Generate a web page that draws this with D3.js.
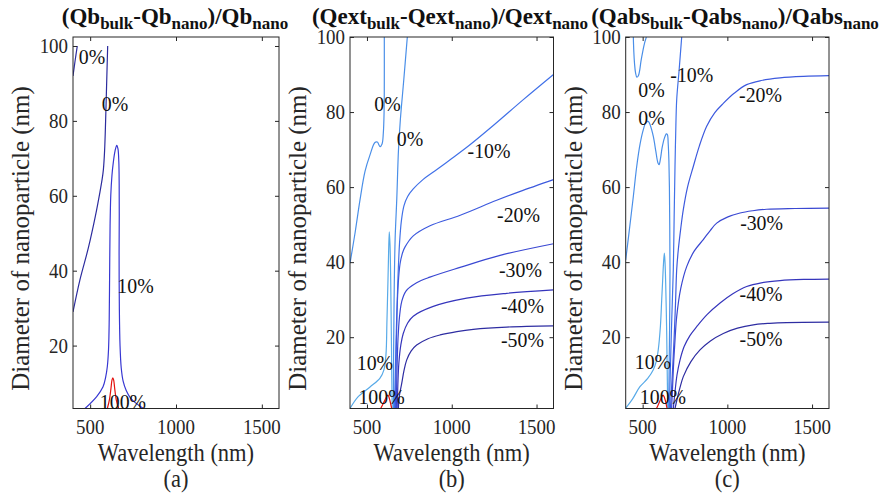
<!DOCTYPE html>
<html>
<head>
<meta charset="utf-8">
<script src="https://cdn.jsdelivr.net/npm/d3@7"></script>
<style>
  html, body { margin: 0; padding: 0; background: #fff; }
  svg { display: block; }
</style>
</head>
<body style="margin:0;padding:0;background:#fff">
<svg id="chart" width="883" height="498" style="display:block"></svg>
<script>
// ---------- axis ticks ----------
const wavelengthTicks = [500, 1000, 1500];
const diameterTicks = [20, 40, 60, 80, 100];
const wavelengthRange = [400, 1600];

// ---------- panel (a): backscattering, contour lines as [wavelength nm, diameter nm] ----------
const qbZeroEdge = [[400, 92], [412, 96], [425, 100]];
const qbZeroMain = [[400, 29], [440, 37.5], [489, 46], [530, 54.5], [557, 61], [570, 64.5], [577, 67],
  [584, 72], [590, 80], [596, 90], [602, 100]];
const qbTen = [[470, 3.2], [538, 6.4], [575, 9], [590, 11.5], [600, 14.4], [607, 19], [611, 27], [613.5, 40],
  [616, 52], [620, 60], [627, 65.5], [635, 69], [645, 72], [655, 73.5], [662, 72.5], [667, 69], [669, 63],
  [669.5, 55], [668.5, 45], [670, 30], [674, 20], [681, 14], [692, 10.5], [710, 8], [735, 6], [770, 4.5], [810, 3.2]];
const qbHundred = [[600, 3.2], [612, 5.5], [621, 8.5], [627, 10.8], [632, 11.4], [637, 10.8], [643, 8.5],
  [652, 5.5], [666, 3.2]];
const qbLabels = [["0%", 510.7, 97.25], ["0%", 644.7, 84.85], ["10%", 764, 36.3], ["100%", 691, 5.25]];

// ---------- panel (b): extinction ----------
const qextTen = [[400, 1], [447, 4.1], [518, 6.75], [577, 9.1], [600, 11.3], [612, 15.3], [618, 24.6], [624, 35.3],
  [628, 43.3], [631.7, 48.1], [636, 44.6], [640, 35.3], [643.5, 22], [646.5, 8.7], [649, 1]];
const qextZeroLeft = [[400, 39.7], [429.5, 47.7], [459, 56.6], [488.5, 64.2], [518, 68.6], [547, 71.9], [561, 72],
  [577, 70.8], [589, 71.5], [596.5, 74.4], [601, 80], [602.3, 88], [602.3, 100]];
const qextZeroRight = [[738, 100], [716, 88], [697, 78], [686, 70], [676, 57], [666, 46], [660, 30], [657, 15], [656, 1]];
const qextNeg10 = [[662, 1], [668, 12], [675, 25], [683, 36], [692, 45], [703, 51], [718, 55], [740, 57.5], [773, 59.5],
  [830, 62], [900, 64.3], [1000, 67.6], [1100, 71], [1250, 76.6], [1422, 83.3], [1600, 90]];
const qextNeg20 = [[668, 1], [672, 14], [677, 26], [684, 34], [695, 39.5], [710, 42.5], [724, 44], [773, 47],
  [872, 49.7], [1050, 52.5], [1265, 56.5], [1400, 58.8], [1600, 62]];
const qextNeg30 = [[673, 1], [677, 11], [683, 19.5], [692, 25.5], [705, 29.5], [730, 32.3], [793, 34.5], [871, 36],
  [1049, 38.6], [1285, 41.8], [1600, 44.9]];
const qextNeg40 = [[678, 1], [682, 7], [688, 13], [700, 18], [714, 21], [740, 23.8], [773, 25.6], [891, 28.2],
  [1088, 30.4], [1324, 31.7], [1600, 32.6]];
const qextNeg50 = [[685, 1], [690, 4], [705, 7.7], [718, 11], [734, 13.9], [760, 16.3], [793, 17.9], [860, 19.6],
  [931, 20.6], [1030, 21.5], [1127, 22.1], [1324, 22.7], [1600, 23]];
const qextHundred = [[581, 1], [600, 2.7], [612, 3.8], [624, 4.6], [630, 4], [636, 3], [646, 1]];
const qextLabels = [["0%", 621, 82.5], ["0%", 754, 73.1], ["-10%", 1220, 70], ["-20%", 1394, 52.7],
  ["-30%", 1405, 38.3], ["-40%", 1417, 28.7], ["-50%", 1417, 19.4], ["10%", 547, 13.4], ["100%", 586, 4.35]];

// ---------- panel (c): absorption ----------
const qabsZeroCap = [[445, 100], [448, 96], [452, 93], [458, 90.5], [466, 89.3], [474, 89.6], [482, 91], [490, 93.5],
  [500, 96], [512, 98.5], [522, 100]];
const qabsZeroWave = [[400, 40.6], [420, 48], [445, 57.5], [465, 65.5], [485, 71.5], [504, 75.3], [520, 77.3],
  [533, 77.5], [545, 76.5], [563, 73.5], [578, 69.5], [590, 66.5], [597, 66], [605, 67.5], [615, 70.5], [628, 73],
  [640, 74.2], [646, 74], [651, 71.5], [655, 67], [658, 60], [660, 50], [661.5, 38], [659, 22], [656, 10], [653, 1]];
const qabsTen = [[400, 1.1], [440, 3.5], [484, 6.8], [530, 9], [563, 11.3], [580, 13.5], [592, 16.6], [605, 23],
  [612.5, 30], [618, 35], [622, 38.8], [628, 42.4], [632, 40], [636, 34.4], [642, 21], [645, 11], [648, 1.1]];
const qabsNeg10 = [[730.6, 100], [715, 91], [701, 83.3], [695, 74], [691, 65.5], [686, 52], [681, 38], [672, 25],
  [664, 12], [658, 1]];
const qabsNeg20 = [[664, 1], [675, 10], [686, 20], [694, 29], [701, 38], [710.5, 43.3], [725, 49], [740, 54], [765, 60],
  [799, 65.5], [835, 71], [878, 76.2], [925, 79.8], [976, 82.3], [1040, 85], [1114, 87.3], [1200, 88.4], [1311, 89.1],
  [1450, 89.5], [1600, 89.7]];
const qabsNeg30 = [[671, 1], [677, 7], [684, 14], [692, 20], [701, 25.5], [725, 33], [760, 38.8], [805, 43], [858, 46],
  [900, 48.5], [937, 50.4], [1000, 52], [1075, 53.1], [1150, 53.7], [1232, 54.1], [1400, 54.3], [1600, 54.4]];
const qabsNeg40 = [[681, 1], [690, 5], [703, 10], [720.5, 13.9], [745, 17.5], [780, 20.5], [819, 22.8], [880, 26],
  [957, 29.1], [1030, 31.5], [1114, 33.5], [1200, 34.5], [1311, 35.1], [1450, 35.4], [1600, 35.5]];
const qabsNeg50 = [[691, 1], [705, 3.8], [720, 6.5], [740, 9.5], [785, 13.5], [838.6, 16.6], [900, 19], [976, 21],
  [1060, 22.4], [1153, 23.3], [1250, 23.7], [1350, 23.9], [1600, 24]];
const qabsHundred = [[582, 1], [600, 2.8], [612, 4], [620, 4.6], [628, 4], [636, 2.8], [644, 1]];
const qabsLabels = [["0%", 552, 86.2], ["0%", 552, 78.7], ["-10%", 790, 90.2], ["-20%", 1196, 84.9],
  ["-30%", 1202, 50.6], ["-40%", 1199, 31.8], ["-50%", 1199, 19.9], ["10%", 561, 13.7], ["100%", 620, 4.35]];

// ---------- titles and captions ----------
const qbTitle = [["(Qb", false], ["bulk", true], ["-Qb", false], ["nano", true], [")/Qb", false], ["nano", true]];
const qextTitle = [["(Qext", false], ["bulk", true], ["-Qext", false], ["nano", true], [")/Qext", false], ["nano", true]];
const qabsTitle = [["(Qabs", false], ["bulk", true], ["-Qabs", false], ["nano", true], [")/Qabs", false], ["nano", true]];
const panelLetters = ["(a)", "(b)", "(c)"];

// ---------- styles ----------
const levelColor = {
  a: { "0%": "#2c2c9e", "10%": "#3737d2", "100%": "#e3120f" },
  bc: { "10%": "#58aae8", "0%": "#4a8fe8", "-10%": "#4171e8", "-20%": "#3d5ade", "-30%": "#3a48d2",
        "-40%": "#3535bc", "-50%": "#2e2da2", "100%": "#e3120f" }
};

const panels = [
  { left: 73, right: 279, yDomain: [3.2, 102.4], titleX: 175, title: qbTitle, labels: qbLabels,
    colors: levelColor.a,
    lines: [["0%", qbZeroEdge], ["0%", qbZeroMain], ["10%", qbTen], ["100%", qbHundred]] },
  { left: 350, right: 553.5, yDomain: [1, 100], titleX: 450, title: qextTitle, labels: qextLabels,
    colors: levelColor.bc,
    lines: [["0%", qextZeroLeft], ["0%", qextZeroRight], ["-10%", qextNeg10], ["-20%", qextNeg20], ["-30%", qextNeg30],
            ["-40%", qextNeg40], ["-50%", qextNeg50], ["10%", qextTen], ["100%", qextHundred]] },
  { left: 625.7, right: 829, yDomain: [1, 100], titleX: 735, title: qabsTitle, labels: qabsLabels,
    colors: levelColor.bc,
    lines: [["0%", qabsZeroCap], ["0%", qabsZeroWave], ["-10%", qabsNeg10], ["-20%", qabsNeg20], ["-30%", qabsNeg30],
            ["-40%", qabsNeg40], ["-50%", qabsNeg50], ["10%", qabsTen], ["100%", qabsHundred]] }
];

const TOP = 37, BOTTOM = 408.5;
const axisColor = "#262626";
const FONT = "'Liberation Serif'";
const NARROW = 0.9;   // glyphs are set slightly condensed
const svg = d3.select("#chart");

// condense a text element horizontally to NARROW of its natural advance
function condense(sel) {
  sel.each(function () {
    const L = this.getComputedTextLength();
    if (L > 0) d3.select(this).attr("textLength", (L * NARROW).toFixed(2)).attr("lengthAdjust", "spacingAndGlyphs");
  });
}

// plain serif text node, positioned by baseline
function serifText(parent, x, y, str, size, anchor) {
  return parent.append("text").attr("x", x).attr("y", y).attr("text-anchor", anchor)
    .style("font-family", FONT).style("font-size", size + "px").attr("fill", axisColor).text(str);
}

panels.forEach((p, i) => {
  const x = d3.scaleLinear().domain(wavelengthRange).range([p.left, p.right]);
  const y = d3.scaleLinear().domain(p.yDomain).range([BOTTOM, TOP]);
  const g = svg.append("g");

  const clipId = "clip" + i;
  g.append("clipPath").attr("id", clipId).append("rect")
    .attr("x", p.left).attr("y", TOP).attr("width", p.right - p.left).attr("height", BOTTOM - TOP);

  // contour lines
  const line = d3.line().x(d => x(d[0])).y(d => y(d[1])).curve(d3.curveCatmullRom.alpha(0.5));
  g.append("g").attr("clip-path", `url(#${clipId})`)
    .selectAll("path").data(p.lines).join("path")
    .attr("d", d => line(d[1]))
    .attr("fill", "none")
    .attr("stroke", d => p.colors[d[0]])
    .attr("stroke-width", 1.2);

  // inward tick marks on all four sides (labels are set separately below)
  const styleAxis = sel => {
    sel.select(".domain").remove();
    sel.selectAll("text").remove();
    sel.selectAll("line").attr("stroke", axisColor).attr("stroke-width", 1);
  };
  g.append("g").attr("transform", `translate(0,${BOTTOM})`)
    .call(d3.axisBottom(x).tickValues(wavelengthTicks).tickSizeInner(-4).tickSizeOuter(0)).call(styleAxis);
  g.append("g").attr("transform", `translate(0,${TOP})`)
    .call(d3.axisTop(x).tickValues(wavelengthTicks).tickSizeInner(-4).tickSizeOuter(0)).call(styleAxis);
  g.append("g").attr("transform", `translate(${p.left},0)`)
    .call(d3.axisLeft(y).tickValues(diameterTicks).tickSizeInner(-4).tickSizeOuter(0)).call(styleAxis);
  g.append("g").attr("transform", `translate(${p.right},0)`)
    .call(d3.axisRight(y).tickValues(diameterTicks).tickSizeInner(-4).tickSizeOuter(0)).call(styleAxis);
  g.append("rect").attr("x", p.left).attr("y", TOP).attr("width", p.right - p.left).attr("height", BOTTOM - TOP)
    .attr("fill", "none").attr("stroke", axisColor).attr("stroke-width", 1);

  // tick labels
  wavelengthTicks.forEach(v => serifText(svg, x(v), 434, String(v), 21, "middle").call(condense));
  diameterTicks.forEach(v => serifText(svg, p.left - 5, y(v) + 7, String(v), 21, "end").call(condense));

  // contour level labels
  p.labels.forEach(([txt, wl, dia]) =>
    serifText(svg, x(wl), y(dia) + 8, txt, 22, "middle").attr("fill", "#111").call(condense));

  // title with subscripts
  const t = svg.append("text").attr("x", p.titleX).attr("y", 23.5).attr("text-anchor", "middle")
    .style("font-family", FONT).style("font-weight", "bold").style("font-size", "23px").attr("fill", "#111");
  let shifted = false;
  p.title.forEach(([txt, sub]) => {
    const ts = t.append("tspan").text(txt);
    if (sub) { ts.style("font-size", "17px").attr("dy", shifted ? 0 : 5.5); shifted = true; }
    else { if (shifted) ts.attr("dy", -5.5); shifted = false; }
  });

  // axis titles
  const cx = (p.left + p.right) / 2;
  serifText(svg, cx, 461, "Wavelength (nm)", 25, "middle").call(condense);
  serifText(svg, cx, 487, panelLetters[i], 25, "middle").call(condense);
  svg.append("text").attr("transform", `translate(${p.left - 44},238.5) rotate(-90)`)
    .attr("text-anchor", "middle").style("font-family", FONT).style("font-size", "25px").attr("fill", axisColor)
    .text("Diameter of nanoparticle (nm)");
});
</script>
</body>
</html>
